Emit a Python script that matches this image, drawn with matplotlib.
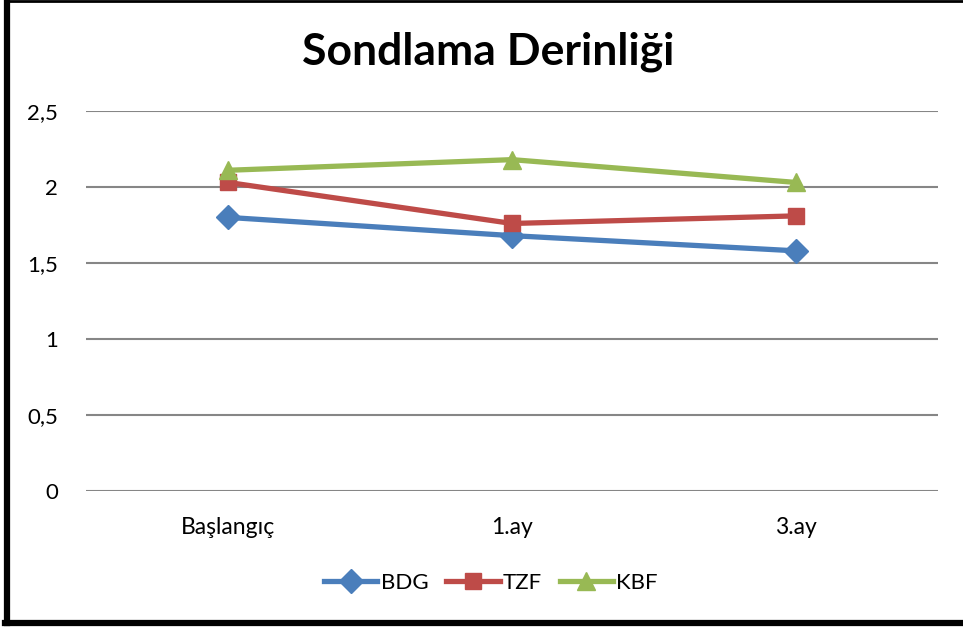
import matplotlib
matplotlib.use("Agg")
import matplotlib.pyplot as plt
from matplotlib.lines import Line2D

categories = ["Başlangıç", "1.ay", "3.ay"]
bdg = [1.80, 1.68, 1.58]
tzf = [2.03, 1.76, 1.81]
kbf = [2.11, 2.18, 2.03]
series_names = ["BDG", "TZF", "KBF"]
yticks = [0, 0.5, 1, 1.5, 2, 2.5]
ytick_labels = ["0", "0,5", "1", "1,5", "2", "2,5"]

plt.rcParams['font.family'] = ['Lato', 'DejaVu Sans']

fig = plt.figure(figsize=(9.63, 6.28), dpi=100)
ax = fig.add_axes([86/963, 1-491/628, (938-86)/963, (491-111)/628])

x = list(range(len(categories)))
styles = [
    (bdg, "#4A7EBB", "D", 12),
    (tzf, "#BE4B48", "s", 12),
    (kbf, "#98B954", "^", 13),
]
for (vals, col, mk, ms), name in zip(styles, series_names):
    ax.plot(x, vals, color=col, lw=3.8, marker=mk, markersize=ms,
            markeredgecolor=col, label=name, zorder=3)

ax.set_xlim(-0.5, 2.5)
ax.set_ylim(0, 2.5)
ax.set_yticks(yticks)
ax.set_yticklabels(ytick_labels, fontsize=16)
ax.set_xticks(x)
ax.set_xticklabels(categories, fontsize=16.5)
ax.tick_params(axis='both', length=0)
ax.tick_params(axis='y', pad=20)
ax.tick_params(axis='x', pad=19)
for s in ax.spines.values():
    s.set_visible(False)
ax.yaxis.grid(True, color="#868686", lw=1.5)
ax.set_axisbelow(True)

fig.text(488/963, 1-52/628, "Sondlama Derinliği", ha="center", va="center",
         fontsize=32, fontweight="bold")

leg = fig.legend(loc="center", bbox_to_anchor=(491/963, 1-583/628), ncol=3,
                 frameon=False, fontsize=16, handlelength=2.4,
                 columnspacing=0.8, handletextpad=0.15)

# border
fig.add_artist(Line2D([7/963, 7/963], [1-1/628, 1-623/628], color="black", lw=4.5,
                      transform=fig.transFigure))
fig.add_artist(Line2D([5/963, 1.0], [1-1/628, 1-1/628], color="black", lw=2,
                      transform=fig.transFigure))
fig.add_artist(Line2D([5/963, 1.0], [1-623/628, 1-623/628], color="black", lw=4.5,
                      transform=fig.transFigure))

fig.savefig("out.png", dpi=100)
